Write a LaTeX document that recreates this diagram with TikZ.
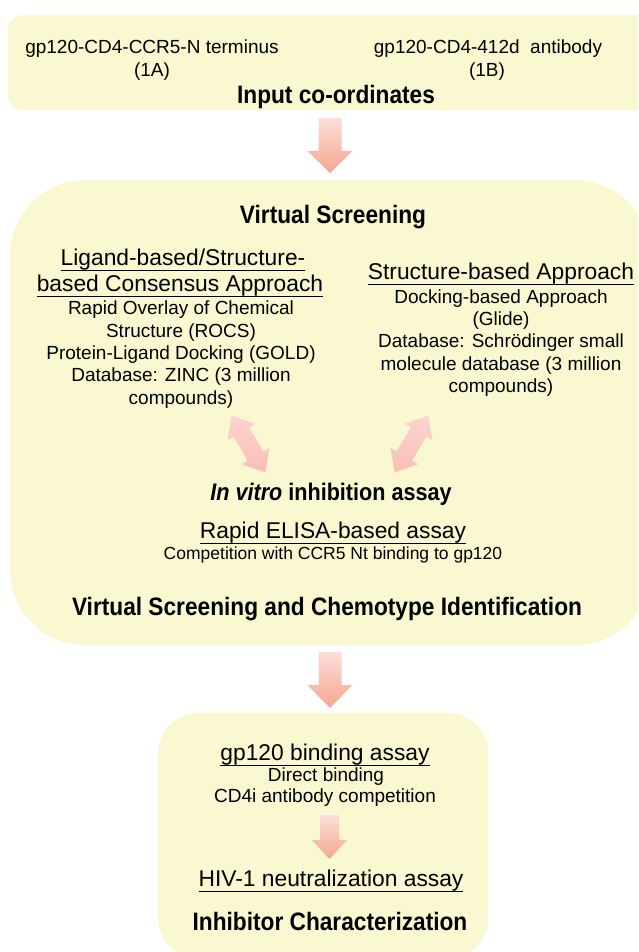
\documentclass[tikz,border=0pt]{standalone}
\usepackage{fontspec}
\setmainfont{Liberation Sans}
\newfontfamily\ttlfont[FakeStretch=0.9]{Liberation Sans}
\definecolor{boxfill}{RGB}{250,248,208}
\definecolor{arrtop}{RGB}{252,222,218}
\definecolor{arrbot}{RGB}{245,166,142}
\definecolor{dbltop}{RGB}{252,212,208}
\definecolor{dblbot}{RGB}{248,190,184}
\newcommand\ulbox[1]{\vtop{\hbox{\vphantom{g}#1}\kern0.4pt\hrule height 1.3pt}}
\tikzset{
  box/.style={draw=none, fill=boxfill, inner sep=0pt, anchor=north west},
  txt/.style={inner sep=0pt, anchor=base, font=\fontsize{19}{22}\selectfont},
  hdr/.style={inner sep=0pt, anchor=base, font=\fontsize{22.8}{26}\selectfont},
  ttl/.style={inner sep=0pt, anchor=base, font=\ttlfont\bfseries\fontsize{25.2}{28}\selectfont},
  arrshade/.style={top color=arrtop, bottom color=arrbot, draw=none},
  dblshade/.style={top color=dbltop, bottom color=dblbot, draw=none}
}
\begin{document}
\begin{tikzpicture}[x=1pt,y=-1pt]
\useasboundingbox (0,0) rectangle (638,952);
\clip (0,0) rectangle (638,952);
% containers
\node[box, rounded corners=14pt, minimum width=660pt, minimum height=95pt] (input) at (8,15) {};
\node[box, rounded corners=75pt, minimum width=640pt, minimum height=465pt] (vs) at (10,180) {};
\node[box, rounded corners=40pt, minimum width=330pt, minimum height=245pt] (ic) at (158,713) {};
% block arrows
\coordinate (a1) at (330,118);
\shade[arrshade, shift={(a1)}] (-11.5,0) -- (11.5,0) -- (11.5,33) -- (22.5,33) -- (0,55) -- (-22.5,33) -- (-11.5,33) -- cycle;
\coordinate (a2) at (330,652);
\shade[arrshade, shift={(a2)}] (-11.5,0) -- (11.5,0) -- (11.5,33) -- (22.5,33) -- (0,56) -- (-22.5,33) -- (-11.5,33) -- cycle;
\coordinate (a3) at (329.5,815);
\shade[arrshade, shift={(a3)}] (-9.5,0) -- (9.5,0) -- (9.5,25) -- (17.5,25) -- (0,44) -- (-17.5,25) -- (-9.5,25) -- cycle;
% double arrows
\coordinate (d1) at (248.5,444);
\coordinate (d2) at (411.5,444);
\shade[dblshade, shift={(d1)}, rotate=-59.5] (-33,0) -- (-14,16) -- (-14,9) -- (14,9) -- (14,16) -- (33,0) -- (14,-16) -- (14,-9) -- (-14,-9) -- (-14,-16) -- cycle;
\shade[dblshade, shift={(d2)}, rotate=59.5] (-33,0) -- (-14,16) -- (-14,9) -- (14,9) -- (14,16) -- (33,0) -- (14,-16) -- (14,-9) -- (-14,-9) -- (-14,-16) -- cycle;
% input texts
\node[txt] (i1) at (152,54) {gp120-CD4-CCR5-N terminus};
\node[txt] (i2) at (152,77) {(1A)};
\node[txt] (i3) at (488,54) {gp120-CD4-412d\ \ antibody};
\node[txt] (i4) at (487,77) {(1B)};
\node[ttl] (i5) at (336,104) {Input co-ordinates};
% virtual screening
\node[ttl] (v0) at (333,223) {Virtual Screening};
\node[hdr] (l1) at (183,265) {\ulbox{Ligand-based/Structure-}};
\node[hdr] (l2) at (180,291) {\ulbox{based Consensus Approach}};
\node[txt] (l3) at (181,314) {Rapid Overlay of Chemical};
\node[txt] (l4) at (181,337) {Structure (ROCS)};
\node[txt] (l5) at (181,359) {Protein-Ligand Docking (GOLD)};
\node[txt] (l6) at (181,381) {Database: ZINC (3 million};
\node[txt] (l7) at (181,404) {compounds)};
\node[hdr] (r1) at (501,279) {\ulbox{Structure-based Approach}};
\node[txt] (r2) at (501,303) {Docking-based Approach};
\node[txt] (r3) at (501,325) {(Glide)};
\node[txt] (r4) at (501,347) {Database: Schrödinger small};
\node[txt] (r5) at (501,370) {molecule database (3 million};
\node[txt] (r6) at (501,392) {compounds)};
\node[ttl, font=\ttlfont\bfseries\fontsize{24}{28}\selectfont] (iv) at (331,500) {\itshape In vitro\upshape{} inhibition assay};
\node[hdr] (e1) at (333,538) {\ulbox{Rapid ELISA-based assay}};
\node[txt, font=\fontsize{17.5}{21}\selectfont] (e2) at (333,559) {Competition with CCR5 Nt binding to gp120};
\node[ttl] (v9) at (327,615) {Virtual Screening and Chemotype Identification};
% inhibitor characterization
\node[hdr] (b1) at (325,760) {\ulbox{gp120 binding assay}};
\node[txt] (b2) at (326,781) {Direct binding};
\node[txt] (b3) at (325,802) {CD4i antibody competition};
\node[hdr] (b4) at (331,886) {\ulbox{HIV-1 neutralization assay}};
\node[ttl] (b5) at (330,930) {Inhibitor Characterization};
\end{tikzpicture}
\end{document}
